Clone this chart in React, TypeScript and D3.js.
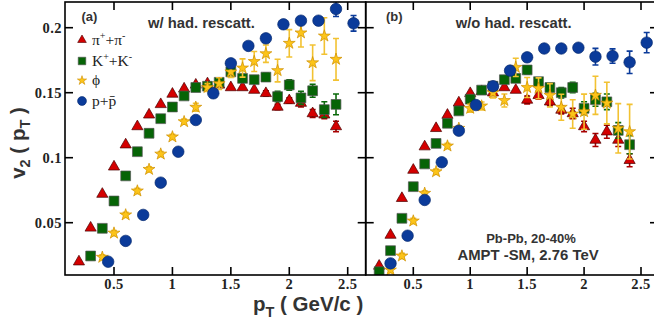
import React from "react";
import * as d3 from "d3";

// ---------- data ----------
const xTicks = [0.5, 1, 1.5, 2, 2.5];
const xTickLabels = ["0.5", "1", "1.5", "2", "2.5"];
const yTicks = [0.05, 0.1, 0.15, 0.2];
const yTickLabels = ["0.05", "0.1", "0.15", "0.2"];

// (a) with hadronic rescattering
const pionPtL = [0.2, 0.3, 0.4, 0.5, 0.6, 0.7, 0.8, 0.9, 1.0, 1.1, 1.2, 1.3, 1.4, 1.5, 1.6, 1.7, 1.8, 1.9, 2.0, 2.1, 2.2, 2.3, 2.4];
const pionV2L = [0.02, 0.046, 0.072, 0.093, 0.11, 0.124, 0.133, 0.141, 0.149, 0.153, 0.156, 0.157, 0.156, 0.154, 0.154, 0.152, 0.1495, 0.139, 0.144, 0.142, 0.134, 0.133, 0.124];
const pionErrL = [0, 0, 0, 0, 0, 0, 0, 0, 0, 0, 0, 0, 0, 0, 0, 0, 0.002, 0.002, 0.002, 0.003, 0.003, 0.003, 0.004];

const kaonPtL = [0.3, 0.4, 0.5, 0.6, 0.7, 0.8, 0.9, 1.0, 1.1, 1.2, 1.3, 1.4, 1.5, 1.6, 1.7, 1.8, 1.9, 2.0, 2.1, 2.2, 2.3, 2.4];
const kaonV2L = [0.0244, 0.0457, 0.0667, 0.086, 0.1046, 0.1188, 0.13, 0.139, 0.1475, 0.154, 0.155, 0.158, 0.166, 0.161, 0.16, 0.162, 0.147, 0.156, 0.146, 0.1515, 0.137, 0.141];
const kaonErrL = [0, 0, 0, 0, 0, 0, 0, 0, 0, 0, 0, 0, 0.002, 0.002, 0.002, 0.003, 0.004, 0.004, 0.005, 0.005, 0.006, 0.008];

const phiPtL = [0.4, 0.5, 0.6, 0.7, 0.8, 0.9, 1.0, 1.1, 1.2, 1.3, 1.4, 1.5, 1.6, 1.7, 1.8, 1.9, 2.0, 2.1, 2.2, 2.3, 2.4];
const phiV2L = [0.0234, 0.042, 0.056, 0.0744, 0.091, 0.1028, 0.116, 0.1277, 0.1388, 0.154, 0.157, 0.166, 0.169, 0.174, 0.18, 0.167, 0.188, 0.196, 0.173, 0.1936, 0.1757];
const phiErrL = [0.002, 0.002, 0.002, 0.002, 0.002, 0.002, 0.002, 0.002, 0.003, 0.003, 0.0045, 0.0042, 0.007, 0.0077, 0.0067, 0.0087, 0.0105, 0.0108, 0.0137, 0.014, 0.016];

const protonPtL = [0.45, 0.6, 0.75, 0.9, 1.05, 1.2, 1.35, 1.5, 1.65, 1.8, 1.95, 2.1, 2.25, 2.4, 2.55];
const protonV2L = [0.02, 0.036, 0.056, 0.0808, 0.1046, 0.129, 0.1495, 0.1726, 0.186, 0.1918, 0.2026, 0.2054, 0.2054, 0.2144, 0.2034];
const protonErrL = [0, 0, 0, 0, 0, 0, 0, 0, 0, 0, 0.002, 0.002, 0.003, 0.0058, 0.006];

// (b) without hadronic rescattering
const pionPtR = [0.2, 0.3, 0.4, 0.5, 0.6, 0.7, 0.8, 0.9, 1.0, 1.1, 1.2, 1.3, 1.4, 1.5, 1.6, 1.7, 1.8, 1.9, 2.0, 2.1, 2.2, 2.3, 2.4];
const pionV2R = [0.0167, 0.0405, 0.0688, 0.0905, 0.1085, 0.1226, 0.1328, 0.1423, 0.1495, 0.151, 0.15, 0.154, 0.152, 0.1444, 0.148, 0.143, 0.1367, 0.134, 0.124, 0.1136, 0.12, 0.1136, 0.098];
const pionErrR = [0, 0, 0, 0, 0, 0, 0, 0, 0, 0, 0, 0, 0, 0.003, 0.003, 0.003, 0.003, 0.004, 0.004, 0.005, 0.005, 0.005, 0.005];

const kaonPtR = [0.2, 0.3, 0.4, 0.5, 0.6, 0.7, 0.8, 0.9, 1.0, 1.1, 1.2, 1.3, 1.4, 1.5, 1.6, 1.7, 1.8, 1.9, 2.0, 2.1, 2.2, 2.3, 2.4];
const kaonV2R = [0.0123, 0.0285, 0.0534, 0.0777, 0.0952, 0.111, 0.1265, 0.136, 0.145, 0.152, 0.155, 0.16, 0.161, 0.1675, 0.1585, 0.154, 0.15, 0.154, 0.138, 0.1446, 0.143, 0.121, 0.11];
const kaonErrR = [0, 0, 0, 0, 0, 0, 0, 0, 0, 0, 0, 0, 0, 0.003, 0.003, 0.003, 0.004, 0.004, 0.005, 0.005, 0.006, 0.006, 0.007];

const phiPtR = [0.3, 0.4, 0.5, 0.6, 0.7, 0.8, 0.9, 1.0, 1.1, 1.2, 1.3, 1.4, 1.5, 1.6, 1.7, 1.8, 1.9, 2.0, 2.1, 2.2, 2.3, 2.4];
const phiV2R = [0.0136, 0.0244, 0.0513, 0.0726, 0.0892, 0.109, 0.1226, 0.138, 0.1398, 0.15, 0.144, 0.1695, 0.154, 0.1534, 0.148, 0.1388, 0.1336, 0.1354, 0.148, 0.142, 0.1226, 0.12];
const phiErrR = [0.002, 0.002, 0.002, 0.002, 0.002, 0.002, 0.002, 0.003, 0.003, 0.004, 0.005, 0.007, 0.0077, 0.008, 0.009, 0.01, 0.011, 0.0135, 0.0147, 0.016, 0.019, 0.021];

const protonPtR = [0.3, 0.45, 0.6, 0.75, 0.9, 1.05, 1.2, 1.35, 1.5, 1.65, 1.8, 1.95, 2.1, 2.25, 2.4, 2.55];
const protonV2R = [0.0187, 0.04, 0.0675, 0.0965, 0.1208, 0.1405, 0.155, 0.167, 0.1772, 0.184, 0.184, 0.1846, 0.1777, 0.1782, 0.1734, 0.1885];
const protonErrR = [0, 0, 0, 0, 0, 0, 0, 0, 0, 0, 0, 0.002, 0.0064, 0.0055, 0.0086, 0.0078];

// ---------- layout ----------
const W = 654;
const H = 332;
const yTop = 2;
const yBot = 275;
const leftX0 = 65;
const midX = 365.7;
const rightX1 = 658;

const y = d3.scaleLinear().domain([0.05, 0.2]).range([222.7, 27.7]);
const xL = d3.scaleLinear().domain([0.5, 2.5]).range([114, 347.7]);
const xR = d3.scaleLinear().domain([0.5, 2.5]).range([413.3, 641]);

type Kind = "pion" | "kaon" | "phi" | "proton";
const styles: Record<Kind, { sym: d3.SymbolType; size: number; fill: string; stroke: string; err: string }> = {
  pion: { sym: d3.symbolTriangle, size: 54, fill: "#d40000", stroke: "#4a0000", err: "#a80000" },
  kaon: { sym: d3.symbolSquare, size: 96, fill: "#066406", stroke: "#555", err: "#0a6a0a" },
  phi: { sym: d3.symbolStar, size: 44, fill: "#fcc419", stroke: "#cf8f00", err: "#f2c232" },
  proton: { sym: d3.symbolCircle, size: 104, fill: "#0b3b9a", stroke: "#062a70", err: "#0b3b9a" },
};

function Series({ x, pts, vals, errs, kind }: { x: d3.ScaleLinear<number, number>; pts: number[]; vals: number[]; errs: number[]; kind: Kind }) {
  const s = styles[kind];
  const path = d3.symbol().type(s.sym).size(s.size)() as string;
  return (
    <g>
      {pts.map((p, i) =>
        errs[i] > 0 ? (
          <g key={"e" + i} stroke={s.err} strokeWidth={1.6}>
            <line x1={x(p)} x2={x(p)} y1={y(vals[i] - errs[i])} y2={y(vals[i] + errs[i])} />
            <line x1={x(p) - 3} x2={x(p) + 3} y1={y(vals[i] - errs[i])} y2={y(vals[i] - errs[i])} />
            <line x1={x(p) - 3} x2={x(p) + 3} y1={y(vals[i] + errs[i])} y2={y(vals[i] + errs[i])} />
          </g>
        ) : null
      )}
      {pts.map((p, i) => (
        <path key={"m" + i} d={path} transform={`translate(${x(p)},${y(vals[i])})`} fill={s.fill} stroke={s.stroke} strokeWidth={0.7} />
      ))}
    </g>
  );
}

function Frame({ x, x0, x1, labels }: { x: d3.ScaleLinear<number, number>; x0: number; x1: number; labels: boolean }) {
  const tl = 8;
  return (
    <g stroke="#000" strokeWidth={1.6}>
      <rect x={x0} y={yTop} width={x1 - x0} height={yBot - yTop} fill="none" />
      {xTicks.map((t) => (
        <g key={"x" + t}>
          <line x1={x(t)} x2={x(t)} y1={yBot} y2={yBot - tl} />
          <line x1={x(t)} x2={x(t)} y1={yTop} y2={yTop + tl} />
        </g>
      ))}
      {yTicks.map((t) => (
        <g key={"y" + t}>
          <line x1={x0} x2={x0 + tl} y1={y(t)} y2={y(t)} />
          <line x1={x1} x2={x1 - tl} y1={y(t)} y2={y(t)} />
        </g>
      ))}
      <g stroke="none" fill="#222" fontFamily="'Liberation Serif', serif" fontWeight="bold" fontSize={14.5} letterSpacing={0.5}>
        {xTicks.map((t, i) => (
          <text key={"xl" + t} x={x(t)} y={289} textAnchor="middle">{xTickLabels[i]}</text>
        ))}
        {labels &&
          yTicks.map((t, i) => (
            <text key={"yl" + t} x={62} y={y(t) + 5} textAnchor="end">{yTickLabels[i]}</text>
          ))}
      </g>
    </g>
  );
}

function LegendSym({ kind, cy }: { kind: Kind; cy: number }) {
  const s = styles[kind];
  const path = d3.symbol().type(s.sym).size(s.size * 0.6)() as string;
  return <path d={path} transform={`translate(82,${cy})`} fill={s.fill} stroke={s.stroke} strokeWidth={0.6} />;
}

const protonLabel = "p+p\u0304";

export default function App() {
  const sans = "'Liberation Sans', Arial, sans-serif";
  const serif = "'Liberation Serif', 'Times New Roman', serif";
  return (
    <svg width={W} height={H} style={{ position: "absolute", left: 0, top: 0, background: "#fff" }}>
      <rect width={W} height={H} fill="#fff" />
      <defs>
        <clipPath id="clipL"><rect x={leftX0} y={yTop} width={midX - leftX0} height={yBot - yTop} /></clipPath>
        <clipPath id="clipR"><rect x={midX} y={yTop} width={rightX1 - midX} height={yBot - yTop} /></clipPath>
      </defs>

      <g clipPath="url(#clipL)">
        <Series x={xL} pts={pionPtL} vals={pionV2L} errs={pionErrL} kind="pion" />
        <Series x={xL} pts={kaonPtL} vals={kaonV2L} errs={kaonErrL} kind="kaon" />
        <Series x={xL} pts={phiPtL} vals={phiV2L} errs={phiErrL} kind="phi" />
        <Series x={xL} pts={protonPtL} vals={protonV2L} errs={protonErrL} kind="proton" />
      </g>
      <g clipPath="url(#clipR)">
        <Series x={xR} pts={pionPtR} vals={pionV2R} errs={pionErrR} kind="pion" />
        <Series x={xR} pts={kaonPtR} vals={kaonV2R} errs={kaonErrR} kind="kaon" />
        <Series x={xR} pts={phiPtR} vals={phiV2R} errs={phiErrR} kind="phi" />
        <Series x={xR} pts={protonPtR} vals={protonV2R} errs={protonErrR} kind="proton" />
      </g>

      <Frame x={xL} x0={leftX0} x1={midX} labels={true} />
      <Frame x={xR} x0={midX} x1={rightX1} labels={false} />

      {/* legend */}
      <LegendSym kind="pion" cy={40} />
      <LegendSym kind="kaon" cy={61} />
      <LegendSym kind="phi" cy={80.5} />
      <LegendSym kind="proton" cy={101} />
      <g fontFamily={serif} fontSize={15.5} fill="#222">
        <text x={92} y={44.5}>π<tspan fontSize={10} dy={-6}>+</tspan><tspan dy={6}>+π</tspan><tspan fontSize={10} dy={-6}>-</tspan></text>
        <text x={92} y={65.5}>K<tspan fontSize={10} dy={-6}>+</tspan><tspan dy={6}>+K</tspan><tspan fontSize={10} dy={-6}>-</tspan></text>
        <text x={92} y={85}>ϕ</text>
        <text x={92} y={105.5}>{protonLabel}</text>
      </g>

      {/* panel labels */}
      <g fontFamily={sans} fontWeight="bold" fill="#333">
        <text x={81.5} y={21} fontSize={13}>(a)</text>
        <text x={148} y={27.5} fontSize={14.8}>w/ had. rescatt.</text>
        <text x={386} y={21} fontSize={13}>(b)</text>
        <text x={455.7} y={27.5} fontSize={14.8}>w/o had. rescatt.</text>
        <text x={531} y={242.5} fontSize={13} textAnchor="middle">Pb-Pb, 20-40%</text>
        <text x={528} y={260} fontSize={14.9} textAnchor="middle">AMPT -SM, 2.76 TeV</text>
      </g>

      {/* axis titles */}
      <g fontFamily={sans} fontWeight="bold" fill="#333" fontSize={20.5}>
        <text x={253} y={311}>p<tspan fontSize={14.5} dy={6}>T</tspan><tspan dy={-6}> ( GeV/c )</tspan></text>
        <g transform="translate(25,143) rotate(-90)">
          <text x={0} y={0} textAnchor="middle">v<tspan fontSize={14.5} dy={5}>2</tspan><tspan dy={-5}> ( p</tspan><tspan fontSize={14.5} dy={5}>T</tspan><tspan dy={-5}> )</tspan></text>
        </g>
      </g>
    </svg>
  );
}
